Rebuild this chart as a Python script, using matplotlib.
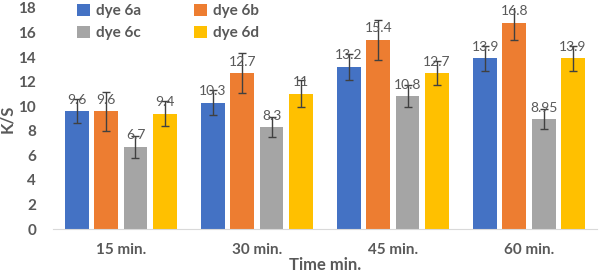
import matplotlib
matplotlib.use("Agg")
import matplotlib.pyplot as plt
import numpy as np

times = ["15 min.", "30 min.", "45 min.", "60 min."]
dyes = ["dye 6a", "dye 6b", "dye 6c", "dye 6d"]
ks_6a = [9.6, 10.3, 13.2, 13.9]
ks_6b = [9.6, 12.7, 15.4, 16.8]
ks_6c = [6.7, 8.3, 10.8, 8.95]
ks_6d = [9.4, 11, 12.7, 13.9]
err_6a = [1.0, 1.0, 1.05, 1.0]
err_6b = [1.6, 1.6, 1.6, 1.4]
err_6c = [0.9, 0.8, 0.9, 0.8]
err_6d = [1.0, 1.1, 1.0, 1.0]
labels_6c = ["6.7", "8.3", "10.8", "8.95"]

colors = ["#4472C4", "#ED7D31", "#A5A5A5", "#FFC000"]
txt = "#595959"

plt.rcParams["font.family"] = ["Lato", "DejaVu Sans"]

fig = plt.figure(figsize=(6, 2.75), dpi=100)
ax = fig.add_axes([0.088, 0.167, 0.907, 0.804])

series = [ks_6a, ks_6b, ks_6c, ks_6d]
errs = [err_6a, err_6b, err_6c, err_6d]
x = np.arange(len(times))
pitch = 0.215
width = 0.175
handles = []
for i, (vals, e, name, c) in enumerate(zip(series, errs, dyes, colors)):
    xs = x + (i - 1.5) * pitch
    h = ax.bar(xs, vals, width, color=c, label=name, zorder=2)
    handles.append(h)
    ax.errorbar(xs, vals, yerr=e, fmt="none", ecolor="#404040",
                elinewidth=1, capsize=3, capthick=1, zorder=3)
    for j, (xx, v) in enumerate(zip(xs, vals)):
        lab = labels_6c[j] if i == 2 else f"{v:g}"
        ax.annotate(lab, (xx, v), xytext=(0, 4), textcoords="offset points",
                    ha="center", va="bottom", fontsize=10, color=txt, zorder=4)

ax.set_xlim(-0.5, 3.5)
ax.set_ylim(0, 18)
ax.set_yticks(range(0, 19, 2))
ax.set_xticks(x)
ax.set_xticklabels(times)
for lab in ax.get_xticklabels() + ax.get_yticklabels():
    lab.set_fontweight("bold")
    lab.set_color(txt)
    lab.set_fontsize(11)
ax.tick_params(length=0)
ax.tick_params(axis="x", pad=10)
ax.tick_params(axis="y", pad=12)
for s in ["top", "right", "left"]:
    ax.spines[s].set_visible(False)
ax.spines["bottom"].set_color("#D9D9D9")
ax.set_xlabel("Time min.", fontsize=12, fontweight="bold", color=txt, labelpad=0)
ax.set_ylabel("K/S", fontsize=12, fontweight="bold", color=txt, labelpad=2)

# row-major legend order: 6a 6b / 6c 6d
order = [0, 2, 1, 3]
leg = ax.legend([handles[k] for k in order], [dyes[k] for k in order],
                loc="upper left", bbox_to_anchor=(0.02, 1.08), ncol=2,
                frameon=False, fontsize=11, handlelength=0.8, handleheight=0.8,
                columnspacing=3.5, labelspacing=0.5, handletextpad=0.4)
for t in leg.get_texts():
    t.set_fontweight("bold")
    t.set_color(txt)

fig.savefig("out.png", dpi=100)
